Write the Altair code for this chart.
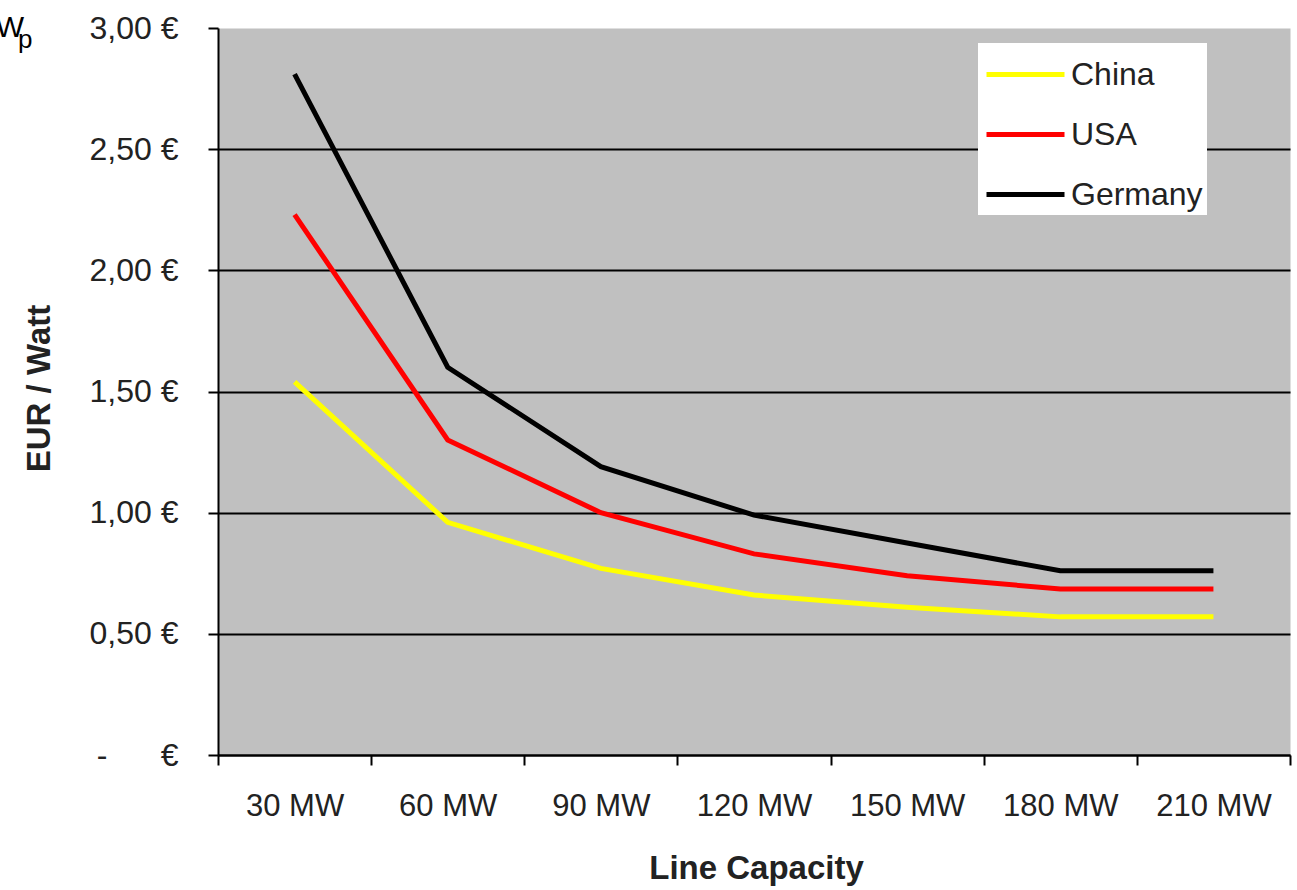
import altair as alt
import pandas as pd

capacities = ["30 MW", "60 MW", "90 MW", "120 MW", "150 MW", "180 MW", "210 MW"]
countries = ["China", "USA", "Germany"]
china = [1.54, 0.96, 0.77, 0.66, 0.61, 0.57, 0.57]
usa = [2.23, 1.30, 1.00, 0.83, 0.74, 0.685, 0.685]
germany = [2.81, 1.60, 1.19, 0.99, 0.875, 0.76, 0.76]
colors = ["#ffff00", "#ff0000", "#000000"]
y_ticks = [0, 0.5, 1.0, 1.5, 2.0, 2.5, 3.0]

rows = []
for name, vals in zip(countries, [china, usa, germany]):
    for cap, v in zip(capacities, vals):
        rows.append({"Capacity": cap, "Country": name, "Value": v})
df = pd.DataFrame(rows)

FONT = "Liberation Sans"
TXT = "#222222"
NB = "\u00a0"

y_label_expr = (
    "datum.value == 0 ? '-" + NB * 6 + "€' : "
    "replace(format(datum.value, '.2f'), '.', ',') + '" + NB + "€'"
)

lines = alt.Chart(df).mark_line(strokeWidth=5).encode(
    x=alt.X(
        "Capacity:N",
        sort=capacities,
        bandPosition=0.5,
        scale=alt.Scale(type="band", paddingInner=0, paddingOuter=0),
        axis=alt.Axis(
            title="Line Capacity",
            labelAngle=0,
            labelFont=FONT,
            labelFontSize=31,
            labelColor=TXT,
            labelPadding=26,
            tickBand="extent",
            tickSize=10,
            tickColor="black",
            tickWidth=2,
            domainColor="black",
            domainWidth=2,
            grid=False,
            titleFont=FONT,
            titleFontSize=33,
            titleFontWeight="bold",
            titleColor=TXT,
            titleX=538,
            titleY=123,
            titleAlign="center",
            titleBaseline="alphabetic",
        ),
    ),
    y=alt.Y(
        "Value:Q",
        scale=alt.Scale(domain=[0, 3], nice=False, zero=True),
        axis=alt.Axis(
            title="EUR / Watt",
            values=y_ticks,
            labelExpr=y_label_expr,
            labelFont=FONT,
            labelFontSize=32,
            labelColor=TXT,
            labelPadding=30,
            tickSize=10,
            tickColor="black",
            tickWidth=2,
            domainColor="black",
            domainWidth=2,
            grid=True,
            gridColor="black",
            gridWidth=2,
            gridOpacity=alt.condition("datum.value >= 3", alt.value(0), alt.value(1)),
            titleFont=FONT,
            titleFontSize=33,
            titleFontWeight="bold",
            titleColor=TXT,
            titleAngle=-90,
            titleX=-179,
            titleY=360,
            titleAlign="center",
            titleBaseline="middle",
        ),
    ),
    color=alt.Color(
        "Country:N",
        sort=countries,
        scale=alt.Scale(domain=countries, range=colors),
        legend=alt.Legend(
            title=None,
            orient="none",
            legendX=760,
            legendY=15,
            fillColor="white",
            padding=4,
            symbolType="M-1.56,0H1.56",
            symbolSize=2500,
            symbolStrokeWidth=5,
            symbolOffset=16,
            labelFont=FONT,
            labelFontSize=32,
            labelColor=TXT,
            labelOffset=18,
            rowPadding=16,
        ),
    ),
)

note_w = pd.DataFrame({"t": ["€/W"]})
note_p = pd.DataFrame({"t": ["p"]})
w_text = alt.Chart(note_w).mark_text(
    align="right", baseline="alphabetic", fontSize=30, font=FONT, color="black"
).encode(x=alt.value(-194), y=alt.value(9), text="t:N")
p_text = alt.Chart(note_p).mark_text(
    align="left", baseline="alphabetic", fontSize=26, font=FONT, color="black"
).encode(x=alt.value(-200), y=alt.value(20), text="t:N")

chart = (
    alt.layer(lines, w_text, p_text)
    .properties(
        width=1072,
        height=727,
        autosize=alt.AutoSizeParams(type="none"),
        padding={"left": 218, "top": 28, "right": 7, "bottom": 135},
        background="white",
    )
    .configure_view(fill="#c0c0c0", stroke="transparent")
)

chart.save("out.html", embed_options={"renderer": "svg", "actions": False})
